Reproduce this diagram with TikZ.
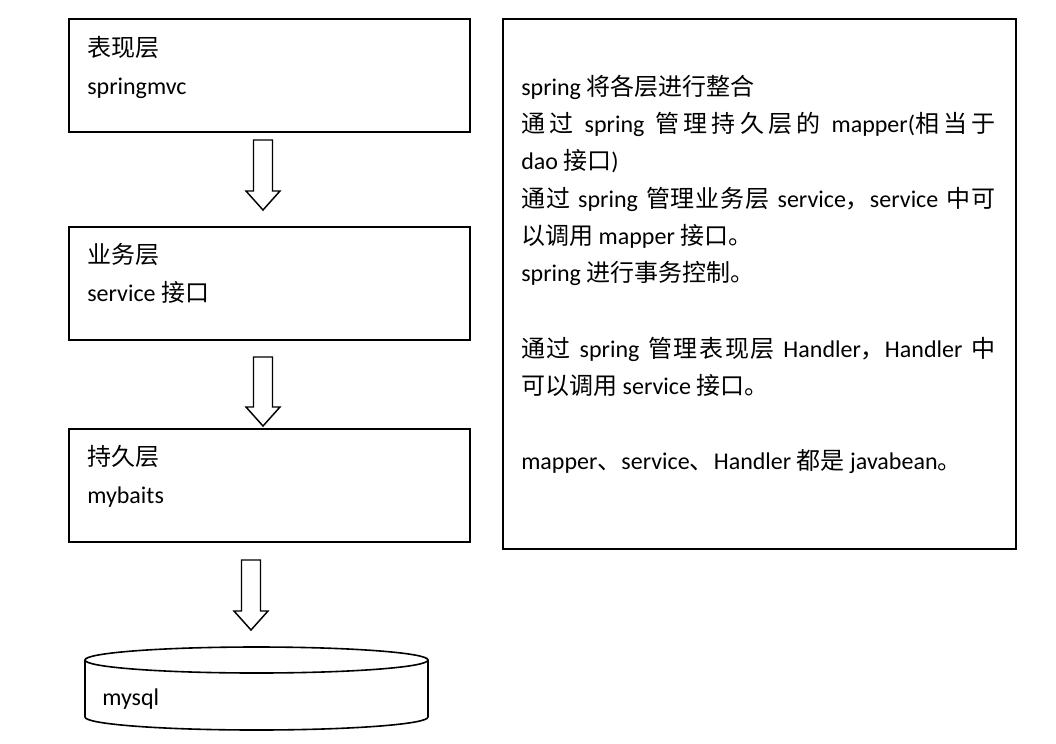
\documentclass[tikz,border=0pt]{standalone}
\usepackage{fontspec}
\setmainfont{Carlito}
\newfontfamily\cjk{Noto Sans CJK SC}
\newcommand{\zh}[1]{{\cjk #1}}
\newXeTeXintercharclass\cjkclass
\newcount\cjkcount
\cjkcount="4E00
\loop
  \XeTeXcharclass\cjkcount=\cjkclass
  \advance\cjkcount by 1
\ifnum\cjkcount<"A000 \repeat
\XeTeXcharclass"FF0C=\cjkclass
\XeTeXinterchartokenstate=1
\XeTeXinterchartoks\cjkclass\cjkclass={\hskip 0pt plus 1em\relax}
\newcommand{\jline}[1]{\makebox[355.5pt][s]{\spaceskip=0.3em plus 1em\relax #1}}
\newcommand{\blockarrowdraw}[4]{% cx, ytop, ybase, ytip
  \draw[arrowline] (#1-9.5,#2) -- (#1+9.5,#2) -- (#1+9.5,#3) -- (#1+17,#3) -- (#1,#4) -- (#1-17,#3) -- (#1-9.5,#3) -- cycle;}
\begin{document}
\begin{tikzpicture}[x=0.75pt,y=-0.75pt,
  layerbox/.style={draw, line width=1.5pt, anchor=north west, inner sep=0pt,
    minimum width=401*0.75pt, minimum height=113*0.75pt},
  infobox/.style={draw, line width=1.5pt, anchor=north west, inner sep=0pt,
    minimum width=513*0.75pt, minimum height=530*0.75pt},
  arrowline/.style={draw, line width=1.1pt, line join=miter, fill=white},
  txt/.style={anchor=base west, inner sep=0pt, font=\fontsize{18}{22}\selectfont},
]
\useasboundingbox (0,0) rectangle (1056,743);
% left layer boxes
\node[layerbox] (pres) at (68,18) {};
\node[txt] (presA) at (87,56) {\zh{表现层}};
\node[txt] (presB) at (87,94) {springmvc};
\node[layerbox] (serv) at (68,226) {};
\node[txt] (servA) at (87,263) {\zh{业务层}};
\node[txt] (servB) at (87,301) {service \zh{接口}};
\node[layerbox] (pers) at (68,428) {};
\node[txt] (persA) at (87,465) {\zh{持久层}};
\node[txt] (persB) at (87,503) {mybaits};
% block arrows
\blockarrowdraw{263}{140}{191}{210}
\blockarrowdraw{263}{357}{407}{426}
\blockarrowdraw{251}{560}{611}{630}
% database cylinder
\draw[line width=1.2pt] (85,660) -- (85,717) arc[start angle=180, end angle=360, x radius=128.625pt, y radius=9.75pt] -- (428,660);
\draw[line width=1.2pt] (256.5,660) ellipse [x radius=128.625pt, y radius=9.75pt];
\node[txt] (db) at (102,705) {mysql};
% right info box
\node[infobox] (info) at (502,18) {};
\node[txt] (l1) at (521,95) {spring \zh{将各层进行整合}};
\node[txt] (l2) at (521,132) {\jline{\zh{通过} spring \zh{管理持久层的} mapper(\zh{相当于}}};
\node[txt] (l3) at (521,169) {dao \zh{接口})};
\node[txt] (l4) at (521,207) {\jline{\zh{通过} spring \zh{管理业务层} service\zh{，}service \zh{中可}}};
\node[txt] (l5) at (521,244) {\zh{以调用} mapper \zh{接口。}};
\node[txt] (l6) at (521,281) {spring \zh{进行事务控制。}};
\node[txt] (l7) at (521,357) {\jline{\zh{通过} spring \zh{管理表现层} Handler\zh{，}Handler \zh{中}}};
\node[txt] (l8) at (521,394) {\zh{可以调用} service \zh{接口。}};
\node[txt] (l9) at (521,469) {mapper\zh{、}service\zh{、}Handler \zh{都是} javabean\zh{。}};
\end{tikzpicture}
\end{document}
